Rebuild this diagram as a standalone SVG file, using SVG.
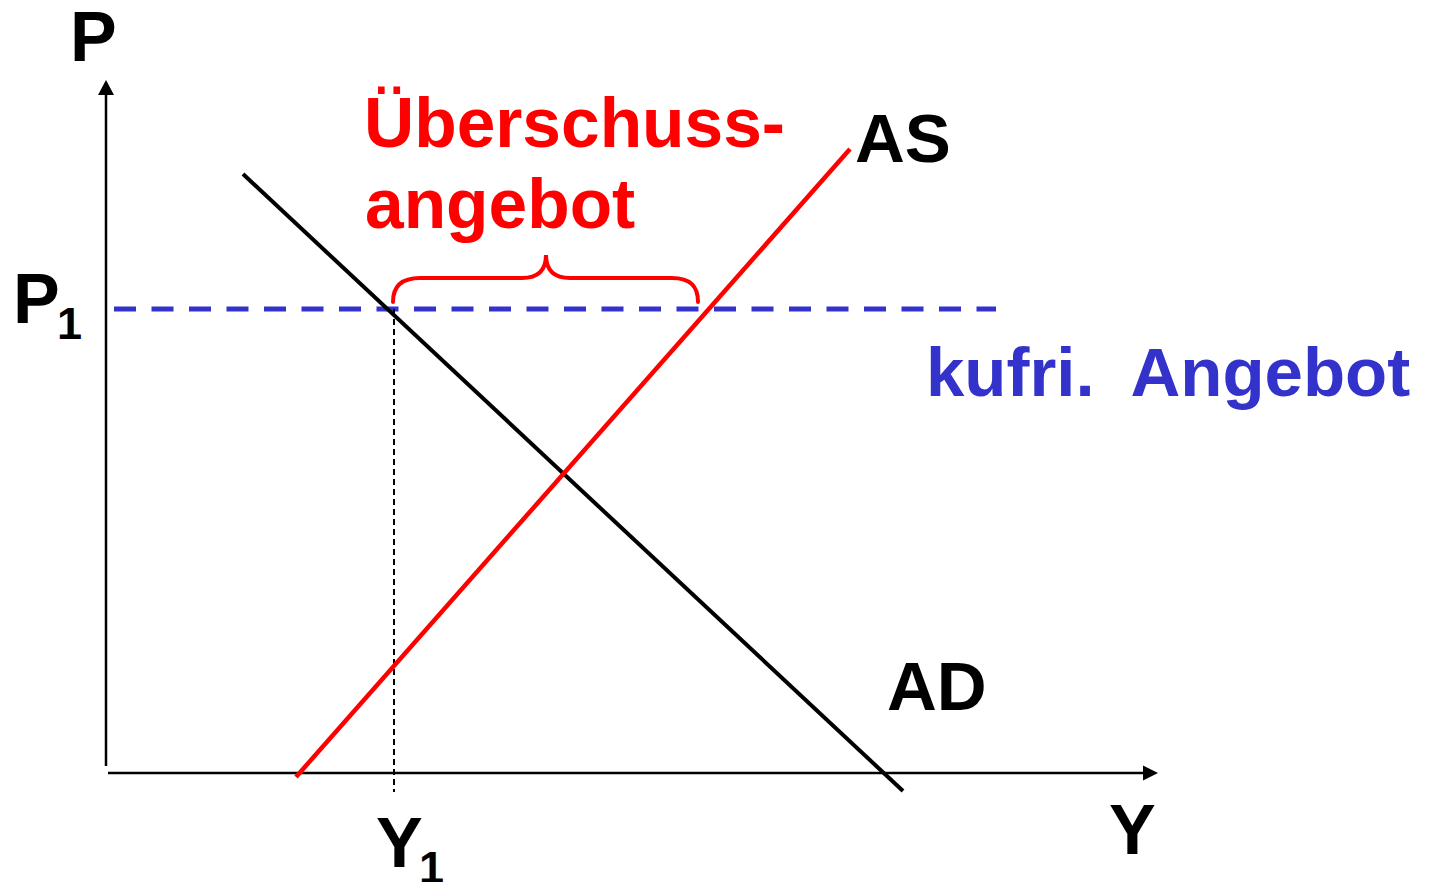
<svg xmlns="http://www.w3.org/2000/svg" width="1429" height="882" viewBox="0 0 1429 882">
<style>
text{font-family:"Liberation Sans",Arial,sans-serif;font-weight:bold}
.lbl{font-size:69px;fill:#000}
.ax{font-size:70px;fill:#000}
.sub{font-size:45px;fill:#000}
.red{font-size:69.5px;fill:#ff0000}
.blue{font-size:69px;fill:#3333cc}
</style>
<rect width="1429" height="882" fill="#fff"/>
<g id="axes">
<line x1="106" y1="766" x2="106" y2="92" stroke="#000" stroke-width="2.5"/>
<polygon points="106,80 98,95 114,95" fill="#000"/>
<line x1="108" y1="773" x2="1146" y2="773" stroke="#000" stroke-width="2.5"/>
<polygon points="1158,773 1143,765.5 1143,780.5" fill="#000"/>
</g>
<g id="connectors">
<line id="p1-line" x1="114" y1="309" x2="996" y2="309" stroke="#3333cc" stroke-width="5" stroke-dasharray="22 15.5"/>
<line id="y1-line" x1="394" y1="309" x2="394" y2="792" stroke="#000" stroke-width="2" stroke-dasharray="6 4"/>
<line id="ad" x1="243" y1="174" x2="903" y2="791" stroke="#000" stroke-width="4"/>
<line id="as" x1="296" y1="777" x2="850" y2="149" stroke="#ff0000" stroke-width="4.5"/>
<path id="brace" d="M393,302 C393,287 401,278 420,278 L522,278 C538,278 546,270 546,255 C546,270 554,278 570,278 L672,278 C691,278 698,287 698,302" fill="none" stroke="#ff0000" stroke-width="4" stroke-linecap="round"/>
</g>
<g id="label-P"><text class="ax" x="70" y="61">P</text></g>
<g id="label-P1"><text class="ax" x="13" y="323">P</text><text class="sub" x="57" y="339">1</text></g>
<g id="label-Y"><text class="ax" x="1109" y="854">Y</text></g>
<g id="label-Y1"><text class="ax" x="376" y="867">Y</text><text class="sub" x="419" y="883">1</text></g>
<g id="label-AS"><text class="lbl" x="855" y="162">AS</text></g>
<g id="label-AD"><text class="lbl" x="887" y="710">AD</text></g>
<g id="label-surplus"><text class="red" x="364" y="147">Überschuss-</text><text class="red" x="365" y="228">angebot</text></g>
<g id="label-kufri"><text class="blue" x="926" y="396" xml:space="preserve">kufri.  Angebot</text></g>
</svg>
